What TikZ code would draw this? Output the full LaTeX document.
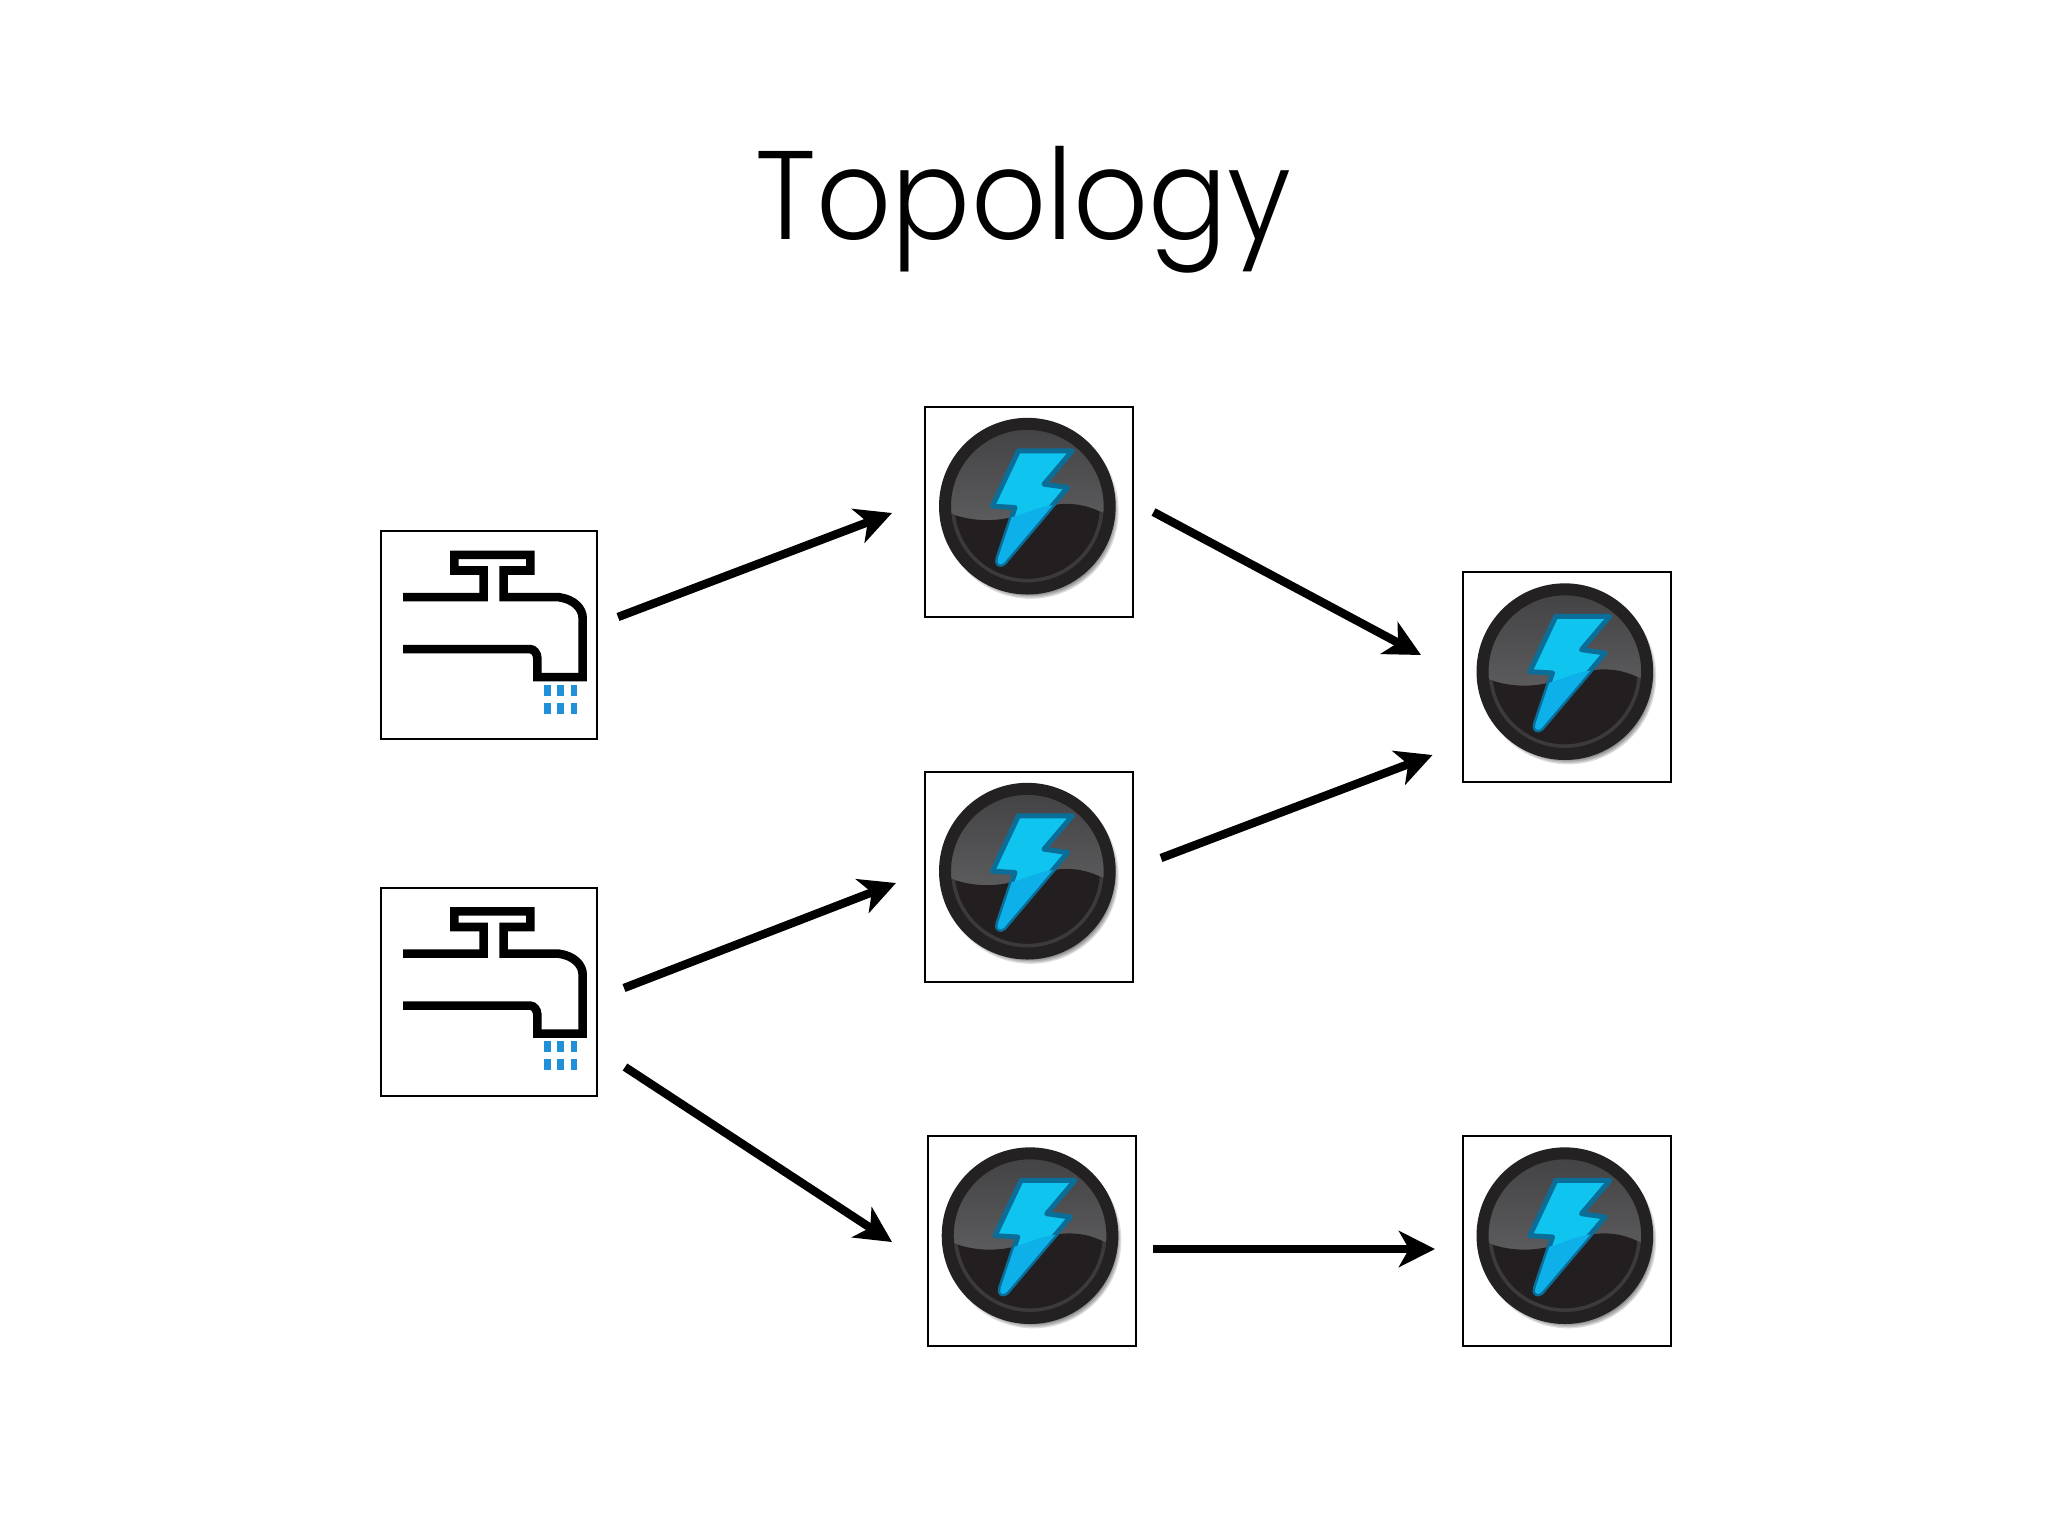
\documentclass[tikz,border=0pt]{standalone}
\usepackage{fontspec}
\usetikzlibrary{arrows.meta}
\newfontfamily\titlefont{Poppins}[UprightFont=* Light,FakeStretch=0.93]
\definecolor{rimdark}{HTML}{232122}
\definecolor{faceup}{HTML}{4A4A4C}
\definecolor{facelow}{HTML}{231F20}
\definecolor{lowring}{HTML}{3C3A3B}
\definecolor{boltcyan}{HTML}{10C4F0}
\definecolor{boltlow}{HTML}{0DB0E8}
\definecolor{boltedge}{HTML}{0B6E98}
\definecolor{dropblue}{HTML}{2090D8}
\newcommand{\boltshape}{(295,152) -- (457,152) -- (372,252) -- (443,262) -- (252,488) .. controls (240,498) and (228,492) .. (234,474) -- (285,322) -- (217,318) -- cycle}
\newcommand{\waveshape}{(60,325) .. controls (120,360) and (220,375) .. (310,340) .. controls (400,305) and (490,290) .. (590,365) -- (590,590) -- (60,590) -- cycle}
\tikzset{
  iconbox/.style={draw=black,line width=1pt,fill=white,inner sep=0pt,minimum width=#1},
  tapbox/.style={iconbox=108pt,minimum height=104pt},
  boltbox/.style={iconbox=104pt,minimum height=105pt},
  flow/.style={draw=black,line width=4.2pt,-{Stealth[length=18pt,width=18pt,inset=5pt]}},
  tapline/.style={draw=black,line width=4.3pt,miter limit=2},
  drop/.style={fill=dropblue},
  tapicon/.pic={
    \begin{scope}[x=0.16667pt,y=-0.16667pt,shift={(-356,-345.5)}]
      \draw[tapline] (98,232) -- (340,232) -- (340,152) -- (252,152) -- (252,105) -- (480,105) -- (480,152) -- (400,152) -- (400,232) -- (565,232) .. controls (610,238) and (637,265) .. (637,295) -- (637,472) -- (501,472) -- (501,415) .. controls (501,400) and (490,388) .. (480,388) -- (98,388);
      \foreach \dx in {521,561,601}
        \foreach \dy in {495,549}
          \fill[drop] (\dx,\dy) rectangle ++(20,33);
    \end{scope}
  },
  bolticon/.pic={
    \begin{scope}[x=0.16667pt,y=-0.16667pt,shift={(-327,-334)}]
      \foreach \rr in {264,260,256,252,248}
        \fill[black,opacity=0.13] (332,332) circle (\rr);
      \fill[facelow] (322,318) circle (248);
      \begin{scope}
        \clip (322,318) circle (246);
        \shade[top color=faceup!88!black,bottom color=faceup!90!white] (60,60) rectangle (590,370);
        \fill[facelow] \waveshape;
        \begin{scope}
          \clip \waveshape;
          \draw[lowring,line width=5] (322,318) circle (233);
        \end{scope}
      \end{scope}
      \draw[rimdark,line width=6] (322,318) circle (247);
      \fill[boltcyan,draw=boltedge,line width=2.5,line join=round] \boltshape;
      \begin{scope}
        \clip \waveshape;
        \fill[boltlow] \boltshape;
      \end{scope}
    \end{scope}
  }
}
\begin{document}
\begin{tikzpicture}[x=0.5pt,y=-0.5pt]
  \useasboundingbox[fill=white] (0,0) rectangle (2048,1536);
  \node[font=\titlefont\fontsize{63pt}{68pt}\selectfont,anchor=base,text=black] (title) at (1023.5,239.5) {Topology};

  \node[tapbox] (t1) at (489,635) {};
  \node[tapbox] (t2) at (489,991.5) {};
  \node[boltbox] (b1) at (1029,511.5) {};
  \node[boltbox] (b2) at (1029,876.5) {};
  \node[boltbox] (b3) at (1031.7,1241) {};
  \node[boltbox] (b4) at (1566.5,677) {};
  \node[boltbox] (b5) at (1566.5,1241) {};

  \pic at (t1) {tapicon};
  \pic at (t2) {tapicon};
  \pic at (b1) {bolticon};
  \pic at (b2) {bolticon};
  \pic at (b3) {bolticon};
  \pic at (b4) {bolticon};
  \pic at (b5) {bolticon};

  \draw[flow] ([shift={(20,-18)}]t1.east) -- ([shift={(-32,1.5)}]b1.west);
  \draw[flow] ([shift={(26,-3.5)}]t2.east) -- ([shift={(-28,6.5)}]b2.west);
  \draw[flow] ([shift={(27,75.5)}]t2.east) -- ([shift={(-34.7,1)}]b3.west);
  \draw[flow] ([shift={(19.5,0.5)}]b1.east) -- ([shift={(-40.5,-22)}]b4.west);
  \draw[flow] ([shift={(27,-18.5)}]b2.east) -- ([shift={(-29,78)}]b4.west);
  \draw[flow] ([shift={(16.3,8)}]b3.east) -- ([shift={(-26.5,8)}]b5.west);
\end{tikzpicture}
\end{document}
